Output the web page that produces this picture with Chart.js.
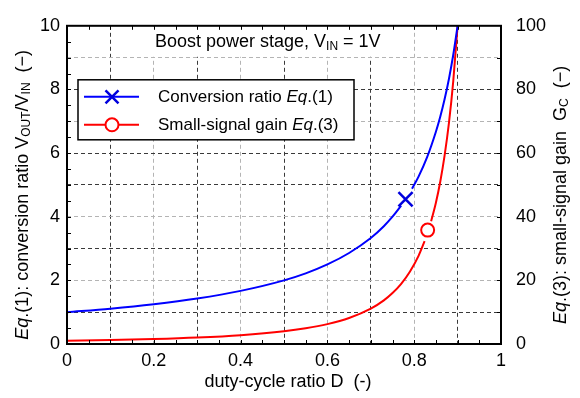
<!DOCTYPE html>
<html>
<head>
<meta charset="utf-8">
<script src="https://cdn.jsdelivr.net/npm/chart.js@4.4.0/dist/chart.umd.min.js"></script>
<style>
  html, body { margin: 0; padding: 0; background: #fff; }
  #wrap { width: 580px; height: 398px; }
</style>
</head>
<body>
<div id="wrap"><canvas id="boostChart" width="580" height="398"></canvas></div>
<script>
// conversion ratio Vout/Vin vs duty cycle (left axis); null leaves room for the marker
const ratioD   = [0, 0.1, 0.2, 0.3, 0.4, 0.5, 0.55, 0.6, 0.65, 0.7, 0.73, 0.75, 0.77, 0.78, 0.795, 0.81, 0.83, 0.85, 0.86, 0.87, 0.88, 0.89, 0.9];
const ratioVal = [1.00, 1.11, 1.25, 1.43, 1.67, 2.00, 2.22, 2.50, 2.86, 3.33, 3.70, 4.00, 4.35, null, 4.88, 5.26, 5.88, 6.67, 7.14, 7.69, 8.33, 9.09, 10.0];

// small-signal gain Gc vs duty cycle (right axis)
const gainD   = [0, 0.1, 0.2, 0.3, 0.4, 0.5, 0.55, 0.6, 0.65, 0.7, 0.73, 0.75, 0.77, 0.79, 0.81, 0.824, 0.831, 0.839, 0.85, 0.86, 0.87, 0.88, 0.89, 0.9];
const gainVal = [1.0, 1.23, 1.56, 2.04, 2.78, 4.0, 4.94, 6.25, 8.16, 11.1, 13.7, 16.0, 18.9, 22.7, 27.7, 32.3, null, 38.6, 44.4, 51.0, 59.2, 69.4, 82.6, 100];

// highlighted operating points
const ratioMarkD = [0.78];
const ratioMarkV = [4.55];
const gainMarkD = [0.831];
const gainMarkV = [35.8];

// tick labels
const xTickLabels  = ['0', '0.2', '0.4', '0.6', '0.8', '1'];
const yTickLabels  = ['0', '2', '4', '6', '8', '10'];
const y2TickLabels = ['0', '20', '40', '60', '80', '100'];

const BLUE = '#0000ff';
const RED = '#ff0000';
const FONT = '"Liberation Sans", Arial, Helvetica, sans-serif';
const GRID_DARK = '#3a3a3a';
const GRID_LIGHT = '#b4b4b4';
const CLEAR = 'rgba(0,0,0,0)';

function pts(xs, ys) {
    return xs.map((x, i) => ({ x: x, y: ys[i] }));
}

function fontFor(kind, size) {
    if (kind === 'i') return 'italic ' + size + 'px ' + FONT;
    if (kind === 's') return Math.round(size * 0.68) + 'px ' + FONT;
    return size + 'px ' + FONT;
}

// draws text made of parts: [text, kind] with kind '' normal, 'i' italic, 's' subscript
function drawRich(ctx, parts, x, y, size, align) {
    let w = 0;
    parts.forEach(p => { ctx.font = fontFor(p[1], size); w += ctx.measureText(p[0]).width; });
    let cx = align === 'center' ? x - w / 2 : x;
    ctx.textAlign = 'left';
    parts.forEach(p => {
        ctx.font = fontFor(p[1], size);
        const dy = p[1] === 's' ? size * 0.2 : 0;
        ctx.fillText(p[0], cx, y + dy);
        cx += ctx.measureText(p[0]).width;
    });
}

function drawCross(ctx, x, y, r, color, width) {
    ctx.strokeStyle = color;
    ctx.lineWidth = width;
    ctx.beginPath();
    ctx.moveTo(x - r, y - r); ctx.lineTo(x + r, y + r);
    ctx.moveTo(x - r, y + r); ctx.lineTo(x + r, y - r);
    ctx.stroke();
}

function drawRing(ctx, x, y, r, color, width) {
    ctx.beginPath();
    ctx.arc(x, y, r, 0, Math.PI * 2);
    ctx.fillStyle = '#fff';
    ctx.fill();
    ctx.strokeStyle = color;
    ctx.lineWidth = width;
    ctx.stroke();
}

const decorations = {
    id: 'decorations',
    afterDraw(chart) {
        const ctx = chart.ctx;
        const a = chart.chartArea;
        const sx = chart.scales.x, sy = chart.scales.y, sy2 = chart.scales.y2;
        ctx.save();
        ctx.fillStyle = '#000';
        ctx.textBaseline = 'alphabetic';

        // title on a white patch
        ctx.fillStyle = '#fff';
        ctx.fillRect(a.left + 83, a.top + 1, 242, 30);
        ctx.fillStyle = '#000';
        drawRich(ctx, [['Boost power stage, V', ''], ['IN', 's'], [' = 1V', '']], a.left + 88, a.top + 21, 18, 'left');

        // inward tick marks
        ctx.strokeStyle = '#000';
        ctx.lineWidth = 1;
        ctx.beginPath();
        for (let i = 1; i < 20; i++) {
            const px = Math.round(sx.getPixelForValue(i * 0.05)) + 0.5;
            ctx.moveTo(px, a.bottom); ctx.lineTo(px, a.bottom - 4);
            ctx.moveTo(px, a.top); ctx.lineTo(px, a.top + 4);
        }
        for (let i = 1; i < 20; i++) {
            const py = Math.round(sy.getPixelForValue(i * 0.5)) + 0.5;
            ctx.moveTo(a.left, py); ctx.lineTo(a.left + 4, py);
        }
        for (let i = 1; i < 10; i++) {
            const py = Math.round(sy2.getPixelForValue(i * 10)) + 0.5;
            ctx.moveTo(a.right, py); ctx.lineTo(a.right - 4, py);
        }
        ctx.stroke();

        // plot frame
        ctx.lineWidth = 2;
        ctx.strokeRect(a.left, a.top, a.right - a.left, a.bottom - a.top);

        // legend
        const lx = a.left + 11, ly = a.top + 54, lw = 276, lh = 60;
        ctx.fillStyle = '#fff';
        ctx.fillRect(lx, ly, lw, lh);
        ctx.lineWidth = 1.5;
        ctx.strokeStyle = '#000';
        ctx.strokeRect(lx, ly, lw, lh);

        const r1 = ly + 17, r2 = ly + 45;
        ctx.lineWidth = 2;
        ctx.strokeStyle = BLUE;
        ctx.beginPath(); ctx.moveTo(lx + 6, r1); ctx.lineTo(lx + 61, r1); ctx.stroke();
        drawCross(ctx, lx + 34, r1, 6.5, '#0000dd', 2.5);
        ctx.strokeStyle = RED;
        ctx.lineWidth = 2;
        ctx.beginPath(); ctx.moveTo(lx + 6, r2); ctx.lineTo(lx + 61, r2); ctx.stroke();
        drawRing(ctx, lx + 34, r2, 6.5, RED, 2);

        ctx.fillStyle = '#000';
        drawRich(ctx, [['Conversion ratio ', ''], ['Eq', 'i'], ['.(1)', '']], lx + 80, r1 + 5, 17, 'left');
        drawRich(ctx, [['Small-signal gain ', ''], ['Eq', 'i'], ['.(3)', '']], lx + 80, r2 + 5, 17, 'left');

        // axis titles
        drawRich(ctx, [['duty-cycle ratio D  (-)', '']], (a.left + a.right) / 2 + 4, 387, 18, 'center');

        ctx.textBaseline = 'middle';
        ctx.save();
        ctx.translate(23, (a.top + a.bottom) / 2 + 10);
        ctx.rotate(-Math.PI / 2);
        drawRich(ctx, [['Eq', 'i'], ['.(1): conversion ratio V', ''], ['OUT', 's'], ['/V', ''], ['IN', 's'], ['  (\u2212)', '']], 0, 0, 18, 'center');
        ctx.restore();

        ctx.save();
        ctx.translate(561, (a.top + a.bottom) / 2 + 10);
        ctx.rotate(-Math.PI / 2);
        drawRich(ctx, [['Eq', 'i'], ['.(3): small-signal gain  G', ''], ['C', 's'], ['  (\u2212)', '']], 0, 0, 18, 'center');
        ctx.restore();

        ctx.restore();
    }
};

function xGridColor(c) {
    const n = Math.round(c.tick.value * 10);
    if (n <= 0 || n >= 10) return CLEAR;
    return n % 2 === 1 ? GRID_DARK : GRID_LIGHT;
}

function yGridColor(c) {
    const n = Math.round(c.tick.value);
    if (n <= 0 || n >= 10) return CLEAR;
    return [1, 3, 5, 6, 8].includes(n) ? GRID_DARK : GRID_LIGHT;
}

const tickFont = { family: FONT, size: 18 };

new Chart(document.getElementById('boostChart').getContext('2d'), {
    type: 'line',
    data: {
        datasets: [
            {
                label: 'ratio marker',
                data: pts(ratioMarkD, ratioMarkV),
                yAxisID: 'y',
                showLine: false,
                pointStyle: 'crossRot',
                pointRadius: 10,
                pointBorderWidth: 2.5,
                pointBorderColor: '#0000dd'
            },
            {
                label: 'gain marker',
                data: pts(gainMarkD, gainMarkV),
                yAxisID: 'y2',
                showLine: false,
                pointStyle: 'circle',
                pointRadius: 6.5,
                pointBorderWidth: 2,
                pointBorderColor: RED,
                pointBackgroundColor: '#fff'
            },
            {
                label: 'Conversion ratio Eq.(1)',
                data: pts(ratioD, ratioVal),
                yAxisID: 'y',
                borderColor: BLUE,
                borderWidth: 2,
                pointRadius: 0,
                cubicInterpolationMode: 'monotone',
                fill: false
            },
            {
                label: 'Small-signal gain Eq.(3)',
                data: pts(gainD, gainVal),
                yAxisID: 'y2',
                borderColor: RED,
                borderWidth: 2,
                pointRadius: 0,
                cubicInterpolationMode: 'monotone',
                fill: false
            }
        ]
    },
    options: {
        responsive: false,
        animation: false,
        layout: { padding: { top: 12, left: 0, right: 0, bottom: 0 } },
        plugins: {
            legend: { display: false },
            tooltip: { enabled: false }
        },
        scales: {
            x: {
                type: 'linear',
                min: 0,
                max: 1,
                ticks: {
                    stepSize: 0.1,
                    autoSkip: false,
                    maxRotation: 0,
                    padding: 6,
                    color: '#000',
                    font: tickFont,
                    callback: v => {
                        const n = Math.round(v * 10);
                        return n % 2 === 0 ? xTickLabels[n / 2] : '';
                    }
                },
                grid: { color: xGridColor, lineWidth: 1, drawTicks: false },
                border: { display: false, dash: [4, 3] },
                afterFit: s => { s.height = 54; }
            },
            y: {
                position: 'left',
                min: 0,
                max: 10,
                ticks: {
                    stepSize: 1,
                    autoSkip: false,
                    padding: 7,
                    color: '#000',
                    font: tickFont,
                    callback: v => {
                        const n = Math.round(v);
                        return n % 2 === 0 ? yTickLabels[n / 2] : '';
                    }
                },
                grid: { color: yGridColor, lineWidth: 1, drawTicks: false },
                border: { display: false, dash: [4, 3] },
                afterFit: s => { s.width = 67; }
            },
            y2: {
                position: 'right',
                min: 0,
                max: 100,
                ticks: {
                    stepSize: 20,
                    autoSkip: false,
                    padding: 15,
                    color: '#000',
                    font: tickFont,
                    callback: v => y2TickLabels[Math.round(v / 20)]
                },
                grid: { display: false, drawTicks: false },
                border: { display: false },
                afterFit: s => { s.width = 79; }
            }
        }
    },
    plugins: [decorations]
});
</script>
</body>
</html>
